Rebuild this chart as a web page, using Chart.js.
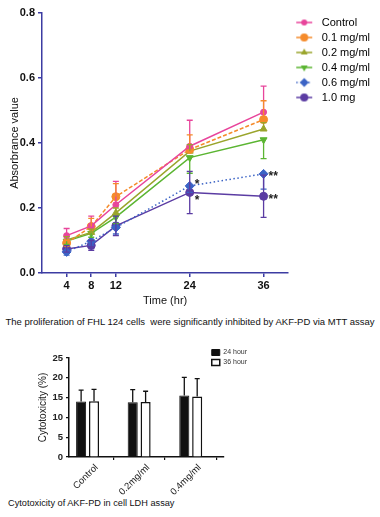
<!DOCTYPE html>
<html>
<head>
<meta charset="utf-8">
<title>AKF-PD assays</title>
<script src="https://cdn.jsdelivr.net/npm/chart.js@4.4.1/dist/chart.umd.min.js"></script>
<style>
  body { margin: 0; background: #fff; }
  #page { position: relative; width: 380px; height: 517px; overflow: hidden; font-family: "Liberation Sans", Arial, sans-serif; color: #111; }
  #mtt { position: absolute; left: 0; top: 0; }
  #ldh { position: absolute; left: 0; top: 340px; }
  .caption { position: absolute; white-space: nowrap; }
  #cap1 { left: 0; width: 380px; text-align: center; top: 316px; font-size: 9.5px; }
  #cap2 { left: 8px; top: 498px; font-size: 9.2px; }
</style>
</head>
<body>
<div id="page">
  <canvas id="mtt" width="380" height="312"></canvas>
  <div class="caption" id="cap1">The proliferation of FHL 124 cells&nbsp; were significantly inhibited by AKF-PD via MTT assay</div>
  <canvas id="ldh" width="272" height="158"></canvas>
  <div class="caption" id="cap2">Cytotoxicity of AKF-PD in cell LDH assay</div>
</div>
<script>
Chart.defaults.font.family = "'Liberation Sans', Arial, sans-serif";
Chart.defaults.color = '#111';

// ---- MTT assay: absorbance vs time ----
const hours = [4, 8, 12, 24, 36];
const hourTicks = [4, 8, 12, 24, 36];
const absTicks = [0, 0.2, 0.4, 0.6, 0.8];
const doseNames = ['Control', '0.1 mg/ml', '0.2 mg/ml', '0.4 mg/ml', '0.6 mg/ml', '1.0 mg'];

const control = [0.115, 0.145, 0.21, 0.39, 0.495];
const dose01 = [0.092, 0.143, 0.235, 0.38, 0.472];
const dose02 = [0.102, 0.125, 0.185, 0.375, 0.443];
const dose04 = [0.098, 0.122, 0.172, 0.355, 0.41];
const dose06 = [0.065, 0.098, 0.14, 0.268, 0.305];
const dose10 = [0.074, 0.085, 0.145, 0.248, 0.236];

const controlSd = [0.022, 0.03, 0.072, 0.08, 0.08];
const dose01Sd = [0.01, 0.025, 0.04, 0.045, 0.058];
const dose02Sd = [0.01, 0.01, 0.015, 0.02, 0.02];
const dose04Sd = [0.01, 0.012, 0.02, 0.048, 0.058];
const dose06Sd = [0.01, 0.012, 0.02, 0.02, 0.047];
const dose10Sd = [0.01, 0.015, 0.03, 0.065, 0.065];

// significance marks: dose index, time index, text
const marks = [[4, 3, '*'], [4, 4, '**'], [5, 3, '*'], [5, 4, '**']];

// ---- LDH assay: cytotoxicity ----
const groups = ['Control', '0.2mg/ml', '0.4mg/ml'];
const hour24 = [14.0, 13.8, 15.5];
const hour36 = [14.1, 13.9, 15.3];
const hour24Sd = [2.9, 3.2, 4.6];
const hour36Sd = [3.0, 2.7, 4.5];
const pctTicks = [0, 5, 10, 15, 20, 25];

// styles
const axisBlue = '#3c3ca2';
const colors = ['#e8459b', '#f58b2b', '#9aa52c', '#5bb532', '#3b63c5', '#5b3ca3'];
const dashes = [[], [4, 2], [], [], [1.5, 2.5], []];
const shapes = ['circle', 'circle', 'triangle', 'triangle', 'rectRot', 'circle'];
const turns = [0, 0, 0, 180, 0, 0];
const sizes = [3, 4, 4, 4, 4.5, 4];
const whisker = [1, 1, 1, -1, -1, 0]; // 1 up, -1 down, 0 both
const markShift = [-4, 0, 5, 0];

const doseValues = [control, dose01, dose02, dose04, dose06, dose10];
const doseSd = [controlSd, dose01Sd, dose02Sd, dose04Sd, dose06Sd, dose10Sd];

function drawShape(g, shape, turn, x, y, r) {
  g.beginPath();
  if (shape === 'circle') {
    g.arc(x, y, r, 0, Math.PI * 2);
  } else if (shape === 'triangle') {
    let a = turn * Math.PI / 180;
    g.moveTo(x + Math.sin(a) * r, y - Math.cos(a) * r);
    for (let k = 0; k < 2; k++) {
      a += Math.PI * 2 / 3;
      g.lineTo(x + Math.sin(a) * r, y - Math.cos(a) * r);
    }
  } else {
    g.moveTo(x, y - r); g.lineTo(x + r, y); g.lineTo(x, y + r); g.lineTo(x - r, y);
  }
  g.closePath();
  g.fill();
}

function legendIcon(i) {
  const c = document.createElement('canvas');
  c.width = 24; c.height = 12;
  const g = c.getContext('2d');
  g.strokeStyle = colors[i];
  g.fillStyle = colors[i];
  g.lineWidth = 1.5;
  g.setLineDash(dashes[i]);
  g.beginPath(); g.moveTo(4, 6); g.lineTo(20, 6); g.stroke();
  g.setLineDash([]);
  drawShape(g, shapes[i], turns[i], 12, 6, sizes[i]);
  return c;
}

const doseErrors = {
  id: 'doseErrors',
  afterDatasetsDraw(chart) {
    const { ctx, scales: { y } } = chart;
    chart.data.datasets.forEach((ds, di) => {
      const meta = chart.getDatasetMeta(di);
      ctx.save();
      ctx.strokeStyle = ds.borderColor;
      ctx.lineWidth = 1.3;
      meta.data.forEach((pt, i) => {
        const v = ds.data[i].y, e = ds.sd[i], dir = whisker[di];
        const ends = dir === 0 ? [v + e, v - e] : [v + dir * e];
        ends.forEach(end => {
          const py = y.getPixelForValue(end);
          ctx.beginPath();
          ctx.moveTo(pt.x, pt.y); ctx.lineTo(pt.x, py);
          ctx.moveTo(pt.x - 3, py); ctx.lineTo(pt.x + 3, py);
          ctx.stroke();
        });
      });
      ctx.restore();
    });
  }
};

const sigMarks = {
  id: 'sigMarks',
  afterDatasetsDraw(chart) {
    const { ctx } = chart;
    ctx.save();
    ctx.fillStyle = '#222';
    ctx.font = "bold 12px 'Liberation Sans', Arial, sans-serif";
    ctx.textBaseline = 'middle';
    marks.forEach((m, k) => {
      const pt = chart.getDatasetMeta(m[0]).data[m[1]];
      ctx.fillText(m[2], pt.x + 5, pt.y + 3 + markShift[k]);
    });
    ctx.restore();
  }
};

new Chart(document.getElementById('mtt'), {
  type: 'line',
  data: {
    datasets: doseNames.map((name, i) => ({
      label: name,
      data: hours.map((h, j) => ({ x: h, y: doseValues[i][j] })),
      sd: doseSd[i],
      borderColor: colors[i],
      backgroundColor: colors[i],
      borderWidth: 1.5,
      borderDash: dashes[i],
      pointStyle: shapes[i],
      pointRotation: turns[i],
      pointRadius: sizes[i],
      pointBorderWidth: 1,
      tension: 0
    }))
  },
  options: {
    responsive: false,
    animation: false,
    layout: { padding: { top: 13, right: 0, left: 0, bottom: 0 } },
    scales: {
      x: {
        type: 'linear', min: 0, max: 40,
        afterBuildTicks: s => { s.ticks = hourTicks.map(v => ({ value: v })); },
        afterFit: s => { s.height = 39; },
        grid: { drawOnChartArea: false, drawTicks: true, tickLength: 4, color: axisBlue, lineWidth: 1.5 },
        border: { color: axisBlue, width: 1.5 },
        ticks: { font: { size: 11, weight: 'bold' }, color: '#111', padding: 2, maxRotation: 0 },
        title: { display: true, text: 'Time (hr)', font: { size: 11 }, color: '#111', padding: { top: 0, bottom: 4 } }
      },
      y: {
        min: 0, max: 0.8,
        afterBuildTicks: s => { s.ticks = absTicks.map(v => ({ value: v })); },
        afterFit: s => { s.width = 42; },
        grid: { drawOnChartArea: false, drawTicks: true, tickLength: 4, color: axisBlue, lineWidth: 1.5 },
        border: { color: axisBlue, width: 1.5 },
        ticks: { font: { size: 11, weight: 'bold' }, color: '#111', padding: 3, callback: v => v.toFixed(1) },
        title: { display: true, text: 'Absorbrance value', font: { size: 11 }, color: '#111', padding: { top: 8, bottom: 0 } }
      }
    },
    plugins: {
      tooltip: { enabled: false },
      legend: {
        position: 'right', align: 'start', fullSize: false,
        labels: {
          usePointStyle: true, pointStyleWidth: 24, padding: 4,
          font: { size: 11 }, color: '#111',
          generateLabels: chart => chart.data.datasets.map((ds, i) => ({
            text: ds.label, pointStyle: legendIcon(i), fillStyle: ds.borderColor,
            strokeStyle: ds.borderColor, lineWidth: 0, hidden: false, datasetIndex: i
          }))
        }
      }
    }
  },
  plugins: [doseErrors, sigMarks]
});

const barErrors = {
  id: 'barErrors',
  afterDatasetsDraw(chart) {
    const { ctx, scales: { y } } = chart;
    chart.data.datasets.forEach((ds, di) => {
      const meta = chart.getDatasetMeta(di);
      ctx.save();
      ctx.strokeStyle = '#111';
      ctx.lineWidth = 1.3;
      meta.data.forEach((bar, i) => {
        const top = y.getPixelForValue(ds.data[i].y + ds.sd[i]);
        ctx.beginPath();
        ctx.moveTo(bar.x, bar.y); ctx.lineTo(bar.x, top);
        ctx.moveTo(bar.x - 2.5, top); ctx.lineTo(bar.x + 2.5, top);
        ctx.stroke();
      });
      ctx.restore();
    });
  }
};

// legend sits over the top-right corner of the plot
const nudgeLegend = {
  id: 'nudgeLegend',
  afterLayout(chart) {
    const lg = chart.legend, w = lg.width, h = lg.height;
    lg.left = chart.chartArea.right - 15; lg.right = lg.left + w;
    lg.top = chart.chartArea.top - 12; lg.bottom = lg.top + h;
  }
};

new Chart(document.getElementById('ldh'), {
  type: 'bar',
  data: {
    datasets: [
      { label: '24 hour', data: groups.map((g, i) => ({ x: i, y: hour24[i] })), sd: hour24Sd,
        backgroundColor: '#111', borderColor: '#111', borderWidth: 1 },
      { label: '36 hour', data: groups.map((g, i) => ({ x: i, y: hour36[i] })), sd: hour36Sd,
        backgroundColor: '#fff', borderColor: '#111', borderWidth: 1.5 }
    ]
  },
  options: {
    responsive: false,
    animation: false,
    datasets: { bar: { categoryPercentage: 0.5, barPercentage: 0.78 } },
    layout: { padding: { top: 18, right: 0, left: 0, bottom: 0 } },
    scales: {
      x: {
        type: 'linear', min: -0.36, max: 2.64, offset: false,
        afterBuildTicks: s => { s.ticks = groups.map((g, i) => ({ value: i })); },
        afterFit: s => { s.height = 41; },
        grid: { drawOnChartArea: false, drawTicks: true, tickLength: 3, color: '#111', lineWidth: 1.2 },
        border: { color: '#111', width: 1.5 },
        ticks: { callback: v => groups[v], minRotation: 45, maxRotation: 45, labelOffset: 9,
          font: { size: 9.5 }, color: '#222', padding: 2 }
      },
      y: {
        min: 0, max: 25,
        afterBuildTicks: s => { s.ticks = pctTicks.map(v => ({ value: v })); },
        afterFit: s => { s.width = 69; },
        grid: { drawOnChartArea: false, drawTicks: true, tickLength: 3, color: '#111', lineWidth: 1.2 },
        border: { color: '#111', width: 1.5 },
        ticks: { font: { size: 9.5, weight: 'bold' }, color: '#222', padding: 3 },
        title: { display: true, text: 'Cytotoxicity (%)', font: { size: 10 }, color: '#222', padding: { top: 37, bottom: 0 } }
      }
    },
    plugins: {
      tooltip: { enabled: false },
      legend: {
        position: 'right', align: 'start', fullSize: false,
        labels: { boxWidth: 8, boxHeight: 6, padding: 3, font: { size: 7 }, color: '#333' }
      }
    }
  },
  plugins: [barErrors, nudgeLegend]
});
</script>
</body>
</html>
